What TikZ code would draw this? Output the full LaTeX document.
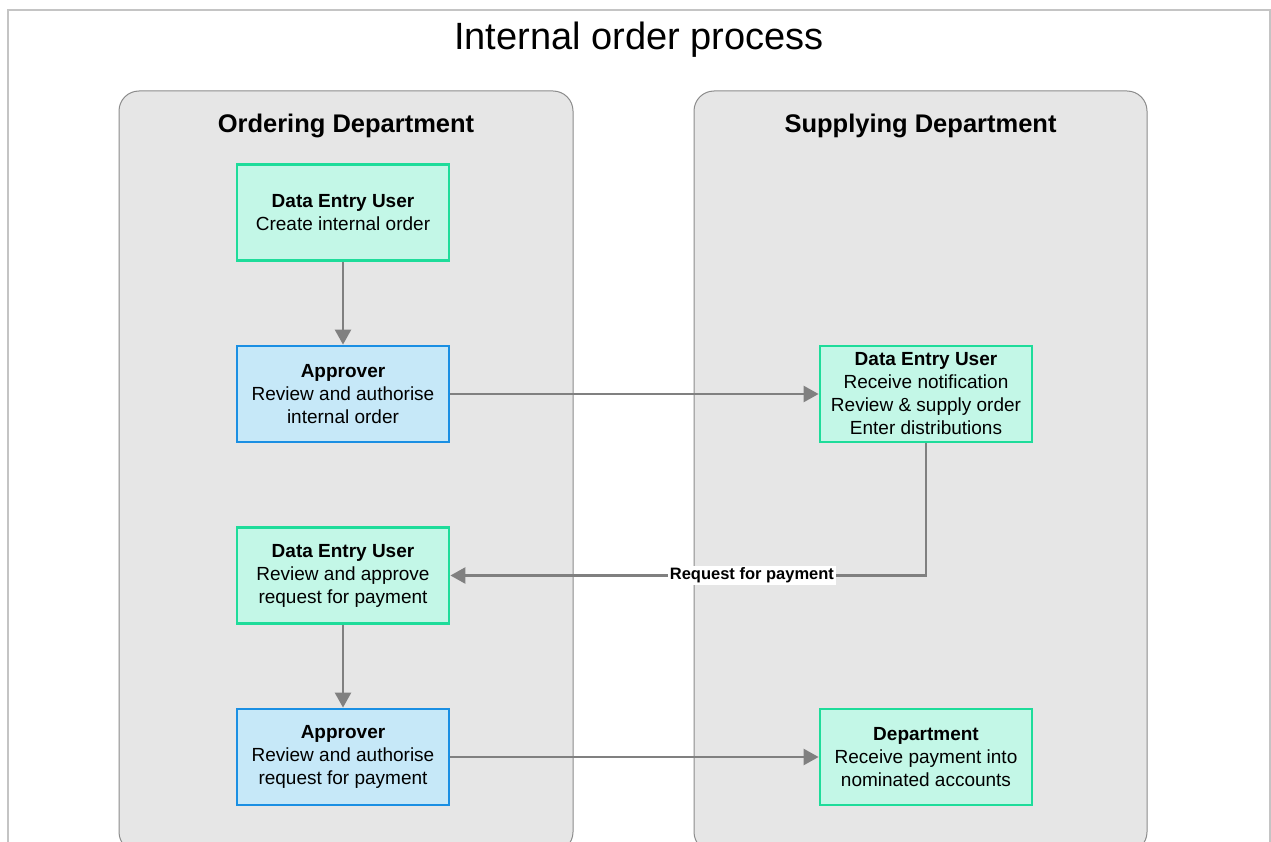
\documentclass[tikz,border=0pt]{standalone}
\usepackage{fontspec}
\setmainfont{Liberation Sans}
\usetikzlibrary{arrows.meta}

\definecolor{framegray}{HTML}{C4C4C4}
\definecolor{lanefill}{HTML}{E6E6E6}
\definecolor{laneline}{HTML}{8C8C8C}
\definecolor{greenfill}{HTML}{C3F7E7}
\definecolor{greenline}{HTML}{1EDC9A}
\definecolor{bluefill}{HTML}{C6E8F8}
\definecolor{blueline}{HTML}{1A8FE3}
\definecolor{flowgray}{HTML}{808080}

\tikzset{
  lane/.style={draw=laneline, line width=1pt, fill=lanefill, rounded corners=20pt},
  lanetitle/.style={font=\fontsize{25.5}{30}\selectfont\bfseries},
  taskbox/.style={minimum width=212pt, minimum height=96pt, inner sep=0pt,
    align=center, line width=2.8pt, font=\fontsize{19}{23}\selectfont},
  greenbox/.style={taskbox, draw=greenline, fill=greenfill},
  bluebox/.style={taskbox, draw=blueline, fill=bluefill},
  flow/.style={draw=flowgray, line width=2.5pt,
    -{Triangle[length=15pt,width=16pt]}},
  flowlabel/.style={fill=white, inner sep=1.5pt,
    font=\fontsize{16.5}{19}\selectfont\bfseries}
}

\begin{document}
\begin{tikzpicture}[x=1pt, y=-1pt]
  \clip (0,0) rectangle (1271,842);
  \fill[white] (0,0) rectangle (1271,842);

  % outer frame
  \draw[framegray, line width=1.5pt] (8,10) rectangle (1270,900);

  % title
  \node[font=\fontsize{38}{44}\selectfont] (title) at (639,40) {Internal order process};

  % swimlanes
  \path[lane] (119,91) rectangle (573,852);
  \path[lane] (694,91) rectangle (1147,852);
  \node[lanetitle] (ordering) at (346,126) {Ordering Department};
  \node[lanetitle] (supplying) at (920.5,126) {Supplying Department};

  % ordering department tasks
  \node[greenbox] (create) at (343,212.5) {\textbf{Data Entry User}\\Create internal order};
  \node[bluebox] (approve1) at (343,394) {\textbf{Approver}\\Review and authorise\\internal order};
  \node[greenbox] (reviewpay) at (343,575.5) {\textbf{Data Entry User}\\Review and approve\\request for payment};
  \node[bluebox] (approve2) at (343,757) {\textbf{Approver}\\Review and authorise\\request for payment};

  % supplying department tasks
  \node[greenbox] (supply) at (926,394) {\textbf{Data Entry User}\\Receive notification\\Review \& supply order\\Enter distributions};
  \node[greenbox] (receive) at (926,757) {\textbf{Department}\\Receive payment into\\nominated accounts};

  % connectors
  \draw[flow] (create) -- (approve1);
  \draw[flow] (approve1) -- (supply);
  \draw[flow] (supply.south) |- node[flowlabel, pos=0.683] (reqlabel) {Request for payment} (reviewpay.east);
  \draw[flow] (reviewpay) -- (approve2);
  \draw[flow] (approve2) -- (receive);
\end{tikzpicture}
\end{document}
